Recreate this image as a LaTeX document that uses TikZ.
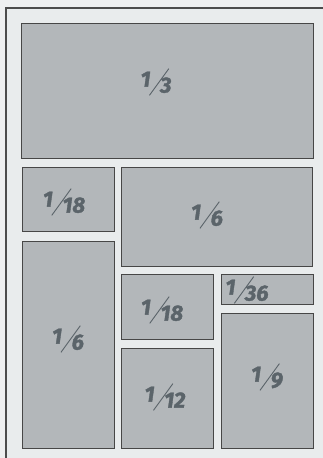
\documentclass[tikz,border=0pt]{standalone}
\usepackage{fontspec}
\setsansfont{Fira Sans}[BoldItalicFeatures={FakeBold=1.6}]
\definecolor{pageGray}{HTML}{EEEFF0}
\definecolor{sheetGray}{HTML}{E9ECED}
\definecolor{paneGray}{HTML}{B3B7BA}
\definecolor{tagGray}{HTML}{5B646A}
\newcommand{\share}[2]{\raisebox{6pt}{#1}\kern-1.5pt\raisebox{-3pt}{\rotatebox{54}{\rule{33pt}{0.9pt}}}\kern-9pt{#2}}

\begin{document}
\begin{tikzpicture}[x=1pt, y=-1pt,
  font=\sffamily\bfseries\itshape\fontsize{22}{24}\selectfont,
  pane/.style={rectangle, draw=black!72, line width=0.9pt, fill=paneGray,
               inner sep=0pt, outer sep=0pt},
  tag/.style={text=tagGray, inner sep=0pt},
  rim/.style={draw=black!70, line width=1.3pt}
]
\useasboundingbox (0,0) rectangle (323,458);
\fill[pageGray] (0,0) rectangle (323,458);
\fill[sheetGray] (6,8) rectangle (323,458);
\draw[rim] (6,458) -- (6,8) -- (323,8);

% top row
\node[pane, minimum width=292pt, minimum height=135pt] (third) at (167,90.5) {};

% middle band
\node[pane, minimum width=92pt, minimum height=64pt]  (lsmall) at (68,199)    {};
\node[pane, minimum width=191pt, minimum height=99pt] (rbig)   at (216.5,216.5) {};

% lower band
\node[pane, minimum width=92pt, minimum height=207pt] (ltall)  at (68,344.5)  {};
\node[pane, minimum width=92pt, minimum height=65pt]  (msmall) at (167,306.5) {};
\node[pane, minimum width=92pt, minimum height=100pt] (mlow)   at (167,398)   {};
\node[pane, minimum width=92pt, minimum height=30pt]  (rthin)  at (267,289)   {};
\node[pane, minimum width=92pt, minimum height=135pt] (rlow)   at (267,380.5) {};

% labels
\node[tag] (third-t)  at (156,82)  {\share{1}{3}};
\node[tag] (lsmall-t) at (64,202)  {\share{1}{18}};
\node[tag] (rbig-t)   at (207,215) {\share{1}{6}};
\node[tag] (ltall-t)  at (68,339)  {\share{1}{6}};
\node[tag] (msmall-t) at (162,310) {\share{1}{18}};
\node[tag] (rthin-t)  at (247,290) {\share{1}{36}};
\node[tag] (mlow-t)   at (165,397) {\share{1}{12}};
\node[tag] (rlow-t)   at (267,377) {\share{1}{9}};
\end{tikzpicture}
\end{document}
